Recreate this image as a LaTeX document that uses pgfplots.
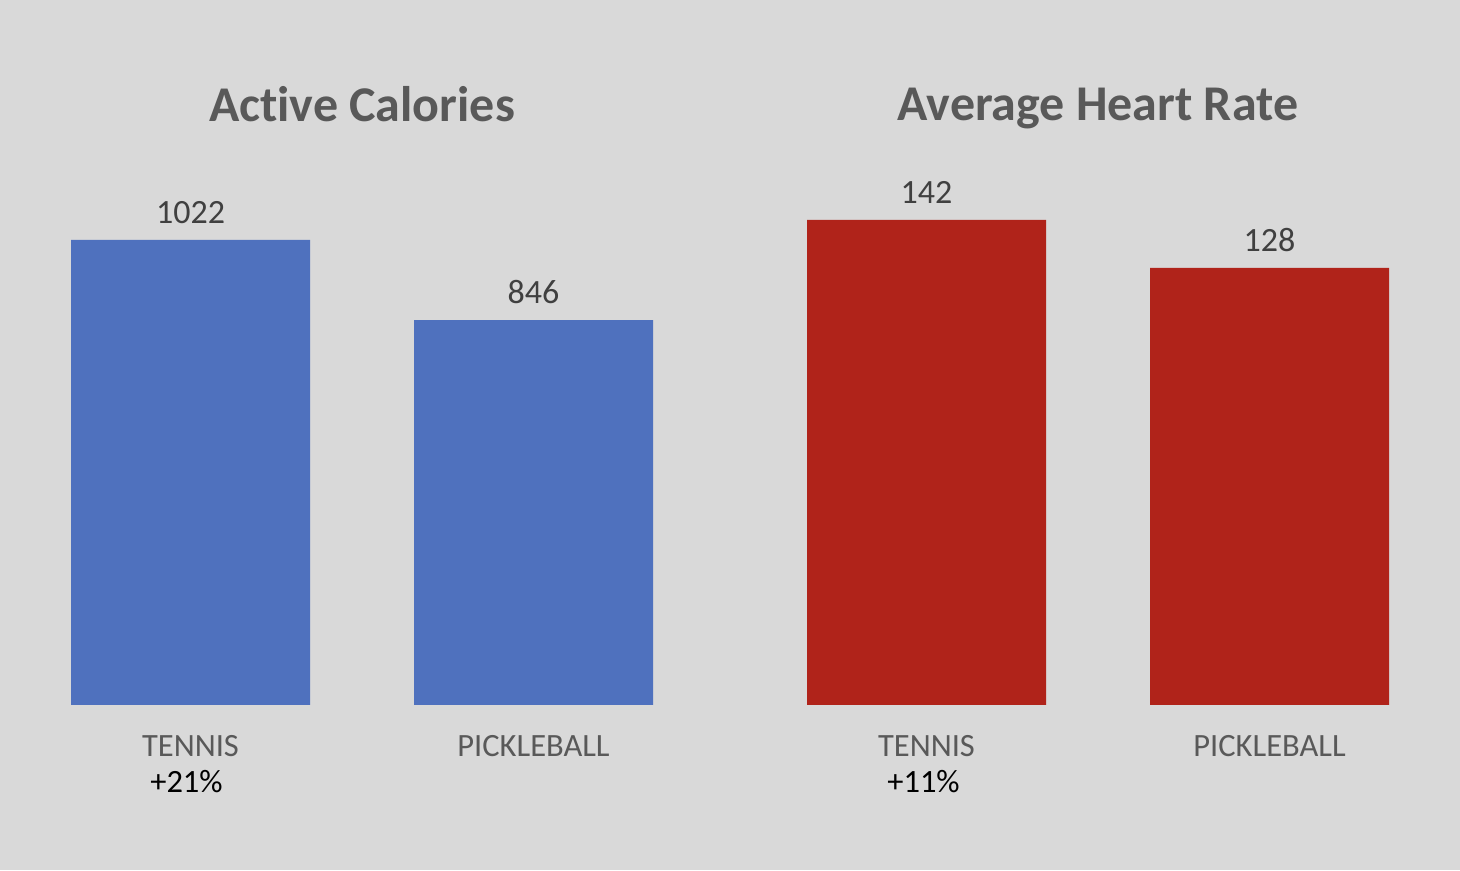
\documentclass[border=0pt]{standalone}
\usepackage{fontspec}
\setmainfont{Carlito}[Ligatures=NoCommon]
\usepackage{pgfplots}
\pgfplotsset{compat=1.18}

\definecolor{bg}{HTML}{D9D9D9}
\definecolor{calblue}{HTML}{4F71BE}
\definecolor{hrred}{HTML}{B0231A}
\definecolor{titlegray}{HTML}{595959}
\definecolor{labelgray}{HTML}{595959}
\definecolor{numgray}{HTML}{404040}

\newcommand\titlefont{\fontsize{50bp}{60bp}\selectfont\bfseries}
\newcommand\lblfont{\fontsize{32.5bp}{40bp}\selectfont}
\newcommand\numfont{\fontsize{34bp}{40bp}\selectfont}

\pgfplotsset{
  panel/.style={
    scale only axis,
    width=686bp,
    anchor=south west,
    xmin=-0.5, xmax=1.5,
    ymin=0,
    axis line style={draw=none},
    ymajorticks=false,
    major tick length=0pt,
    xtick={0,1},
    xticklabels={TENNIS,PICKLEBALL},
    xticklabel style={font=\lblfont, text=labelgray, anchor=north, inner sep=0pt, yshift=-30bp},
    title style={at={(0.5,1)}, anchor=base, inner sep=0pt, yshift=32bp, font=\titlefont, text=titlegray},
    ybar,
    bar width=239bp,
    point meta=explicit symbolic,
    nodes near coords,
    every node near coord/.append style={font=\numfont, text=numgray, anchor=south, inner sep=0pt, yshift=16bp},
    clip=false,
  },
}

\begin{document}
\begin{tikzpicture}[x=1bp,y=1bp]
  \fill[bg] (0,0) rectangle (1460,870);

  % left panel
  \begin{axis}[panel, at={(19bp,165bp)}, height=546bp, ymax=1200,
      title={Active Calories}]
    \addplot[fill=calblue, draw=none] coordinates {(0,1022) [1022] (1,846) [846]};
    \node[font=\lblfont, text=black, anchor=north, inner sep=0pt, yshift=-65bp, xshift=-4bp]
      at (axis cs:0,0) {+21\%};
  \end{axis}

  % right panel
  \begin{axis}[panel, at={(755bp,165bp)}, height=546.48bp, ymax=160,
      title={Average Heart Rate}]
    \addplot[fill=hrred, draw=none] coordinates {(0,142) [142] (1,128) [128]};
    \node[font=\lblfont, text=black, anchor=north, inner sep=0pt, yshift=-65bp, xshift=-3bp]
      at (axis cs:0,0) {+11\%};
  \end{axis}
\end{tikzpicture}
\end{document}
